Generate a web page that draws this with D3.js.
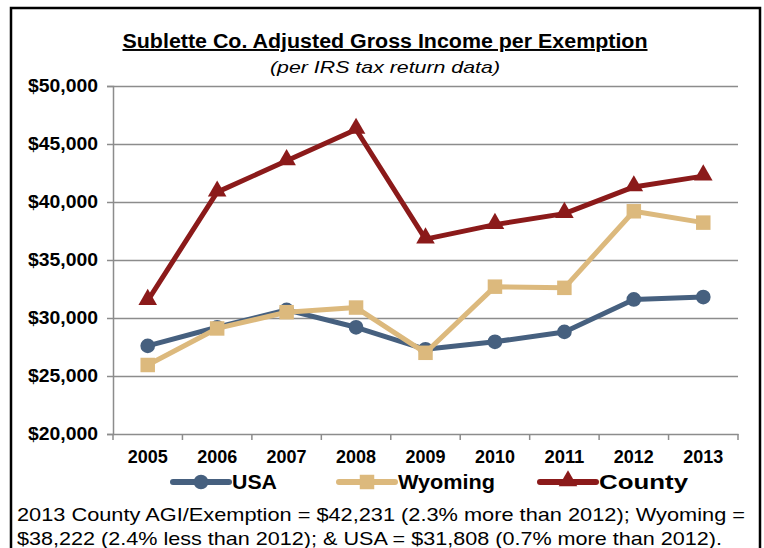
<!DOCTYPE html>
<html>
<head>
<meta charset="UTF-8">
<script src="https://cdn.jsdelivr.net/npm/d3@7"></script>
<style>
  body { margin: 0; background: #fff; }
  svg { font-family: "Liberation Sans", Arial, sans-serif; }
  .grid line { stroke: #8c8c8c; stroke-width: 1.5; }
  .grid path { stroke-width: 0; }
</style>
</head>
<body>
<script>
// data
var years = ["2005", "2006", "2007", "2008", "2009", "2010", "2011", "2012", "2013"];
var usa = [27600, 29200, 30700, 29200, 27300, 27950, 28800, 31600, 31808];
var wyoming = [25950, 29100, 30500, 30900, 27000, 32700, 32600, 39200, 38222];
var county = [31500, 40850, 43550, 46250, 36800, 38050, 39000, 41300, 42231];
var yTicks = [20000, 25000, 30000, 35000, 40000, 45000, 50000];

var series = [
  {name: "USA", values: usa, color: "#46607f", shape: d3.symbolCircle, size: 170},
  {name: "Wyoming", values: wyoming, color: "#dcb97d", shape: d3.symbolSquare, size: 210},
  {name: "County", values: county, color: "#8b1a1a", shape: d3.symbolTriangle, size: 150}
];

var W = 764, H = 548;
var margin = {top: 86, left: 113, right: 26, bottom: 114};
var width = W - margin.left - margin.right,
    height = H - margin.top - margin.bottom;

var svg = d3.select("body").append("svg")
  .attr("width", W).attr("height", H);

// frame
svg.append("path")
  .attr("d", "M11,560 L11,8 L760,8 L760,560")
  .attr("fill", "none").attr("stroke", "#000").attr("stroke-width", 2.5);

// title
svg.append("text")
  .attr("x", 385).attr("y", 48)
  .attr("text-anchor", "middle")
  .attr("font-size", 19.5).attr("font-weight", "bold")
  .attr("text-decoration", "underline")
  .attr("textLength", 525).attr("lengthAdjust", "spacingAndGlyphs")
  .text("Sublette Co. Adjusted Gross Income per Exemption");
svg.append("text")
  .attr("x", 385).attr("y", 73)
  .attr("text-anchor", "middle")
  .attr("font-size", 17).attr("font-style", "italic")
  .attr("textLength", 230).attr("lengthAdjust", "spacingAndGlyphs")
  .text("(per IRS tax return data)");

var x = d3.scaleBand().domain(years).range([0, width]);
var y = d3.scaleLinear().domain([20000, 50000]).range([height, 0]);

var g = svg.append("g")
  .attr("transform", `translate(${margin.left},${margin.top})`);

// gridlines
g.append("g")
  .attr("class", "grid")
  .call(d3.axisLeft(y).tickValues(yTicks.slice(1)).tickSize(-width).tickFormat(""));

// y axis
var yAxis = g.append("g")
  .call(d3.axisLeft(y).tickValues(yTicks).tickSize(6).tickPadding(9)
    .tickFormat(d => "$" + d3.format(",")(d)));
yAxis.select(".domain").attr("stroke", "#8c8c8c").attr("stroke-width", 1.5);
yAxis.selectAll("line").attr("stroke", "#8c8c8c").attr("stroke-width", 1.5);
yAxis.selectAll("text").attr("font-size", 18).attr("font-weight", "bold").attr("fill", "#000")
  .attr("textLength", 70).attr("lengthAdjust", "spacingAndGlyphs");

// x axis (ticks between categories)
var xAxis = g.append("g")
  .attr("transform", `translate(0,${height})`)
  .call(d3.axisBottom(x).tickSize(0).tickPadding(16));
xAxis.select(".domain").attr("stroke", "#8c8c8c").attr("stroke-width", 1.5);
xAxis.selectAll("text").attr("font-size", 18).attr("font-weight", "bold").attr("fill", "#000")
  .attr("textLength", 40).attr("lengthAdjust", "spacingAndGlyphs");
g.append("g")
  .selectAll("line")
  .data(years.concat(["end"]))
  .enter().append("line")
  .attr("x1", (d, i) => i * x.bandwidth())
  .attr("x2", (d, i) => i * x.bandwidth())
  .attr("y1", height).attr("y2", height + 6)
  .attr("stroke", "#8c8c8c").attr("stroke-width", 1.5);

var line = d3.line()
  .x((d, i) => x(years[i]) + x.bandwidth() / 2)
  .y(d => y(d));

series.forEach(s => {
  g.append("path")
    .attr("d", line(s.values))
    .attr("fill", "none")
    .attr("stroke", s.color)
    .attr("stroke-width", 5)
    .attr("stroke-linejoin", "round");
  g.selectAll(null)
    .data(s.values)
    .enter().append("path")
    .attr("transform", (d, i) => `translate(${x(years[i]) + x.bandwidth() / 2},${y(d) + (s.shape === d3.symbolTriangle ? -1 : 0)})`)
    .attr("d", d3.symbol().type(s.shape).size(s.size))
    .attr("fill", s.color);
});

// legend
var legendX = [173, 339, 540];
var legendW = [45, 97, 89];
var legend = svg.append("g")
  .selectAll("g")
  .data(series)
  .enter().append("g")
  .attr("transform", (d, i) => `translate(${legendX[i]},482)`);
legend.append("line")
  .attr("x1", 0).attr("x2", 56)
  .attr("stroke", d => d.color).attr("stroke-width", 6)
  .attr("stroke-linecap", "round");
legend.append("path")
  .attr("transform", d => `translate(28,${d.shape === d3.symbolTriangle ? -1 : 0})`)
  .attr("d", d => d3.symbol().type(d.shape).size(d.size)())
  .attr("fill", d => d.color);
legend.append("text")
  .attr("x", 59).attr("y", 7)
  .attr("font-size", 19.5).attr("font-weight", "bold")
  .attr("textLength", (d, i) => legendW[i]).attr("lengthAdjust", "spacingAndGlyphs")
  .text(d => d.name);

// footnote
var notes = [
  "2013 County AGI/Exemption = $42,231 (2.3% more than 2012); Wyoming =",
  "$38,222 (2.4% less than 2012); & USA = $31,808 (0.7% more than 2012)."
];
var noteW = [728, 705];
svg.append("g")
  .selectAll("text")
  .data(notes)
  .enter().append("text")
  .attr("x", 17)
  .attr("y", (d, i) => 521 + i * 24)
  .attr("font-size", 19)
  .attr("textLength", (d, i) => noteW[i]).attr("lengthAdjust", "spacingAndGlyphs")
  .text(d => d);
</script>
</body>
</html>
